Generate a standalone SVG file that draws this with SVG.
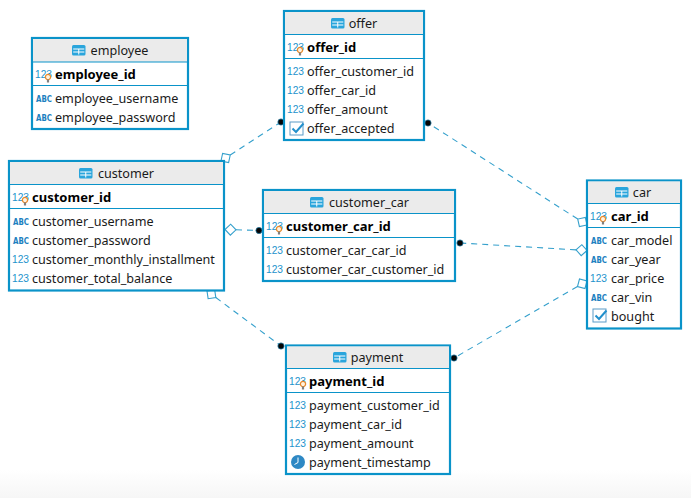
<svg xmlns="http://www.w3.org/2000/svg" width="691" height="498" viewBox="0 0 691 498">
<style>
text{font-family:"Noto Sans","DejaVu Sans",sans-serif;font-size:12.6px;fill:#1a1a1a}
.box{fill:#fff;stroke:#0a93c9;stroke-width:2.2}
.head{fill:#ebebeb}
.sep{stroke:#0a93c9;stroke-width:1.2}
.t{text-anchor:middle}
text.pk{font-weight:bold;font-size:13px;fill:#000}
text.n{font-size:11.5px;fill:#1c93cc;font-family:"Liberation Sans",sans-serif}
text.a{font-size:8.5px;font-weight:bold;fill:#1c7fc0;font-family:"DejaVu Sans",sans-serif}
.rel{fill:none;stroke:#35a0cc;stroke-width:1.1;stroke-dasharray:6 5;marker-start:url(#dia);marker-end:url(#dot)}
</style>
<defs>
<linearGradient id="bg" x1="0" y1="0" x2="0" y2="1"><stop offset="0" stop-color="#fff"/><stop offset="1" stop-color="#f6f6f6"/></linearGradient>
<marker id="dia" markerUnits="userSpaceOnUse" markerWidth="14" markerHeight="14" refX="1" refY="7" orient="auto"><path d="M1 7L6.500 1.500L12 7L6.500 12.500Z" fill="#fff" stroke="#35a0cc" stroke-width="1.100"/></marker>
<marker id="dot" markerUnits="userSpaceOnUse" markerWidth="9" markerHeight="9" refX="4.500" refY="4.500"><circle cx="4.500" cy="4.500" r="3.100" fill="#050505" stroke="#1c6f96" stroke-width=".8"/></marker>
<g id="tbl"><rect x="0" y="0" width="13.500" height="10.500" rx="1.500" fill="#2aa5dc"/><path d="M1.200 4H12.300M1.200 7H12.300M6.750 4V9.500" stroke="#fff" stroke-width="1" fill="none"/></g>
<g id="key"><circle cx="0" cy="0" r="2.600" fill="#fff3e0" stroke="#e8892b" stroke-width="1.300"/><path d="M-1.100 2.500V5.500H1.100V2.500Z" fill="#808080"/></g>
<g id="chk"><rect x="0" y="0" width="13" height="13" fill="#fff" stroke="#5a9bc8" stroke-width="1"/><path d="M2.500 6.500L6 10L13.500 1.500" fill="none" stroke="#2290cc" stroke-width="2"/></g>
</defs>
<rect width="691" height="470" fill="#fff"/>
<rect y="470" width="691" height="28" fill="url(#bg)"/>
<g id="connectors">
<path class="rel" d="M221 161L281 122"/>
<path class="rel" d="M587 225L428 123"/>
<path class="rel" d="M225 229.500L259 230.500"/>
<path class="rel" d="M587 250.500L460 243"/>
<path class="rel" d="M207 291L281 346"/>
<path class="rel" d="M587 281L454 358"/>
</g>
<g id="employee">
<rect class="box" x="32" y="38" width="156" height="91"/><rect class="head" x="33" y="39" width="154" height="23"/>
<path class="sep" d="M33 62H187M33 85.500H187"/>
<use href="#tbl" x="72" y="45"/><text class="t" x="119.500" y="55">employee</text>
<text class="n" x="35" y="78" textLength="17" lengthAdjust="spacingAndGlyphs">123</text><use href="#key" x="48" y="77"/><text class="pk" x="55" y="79">employee_id</text>
<text class="a" x="36" y="102" textLength="16" lengthAdjust="spacingAndGlyphs">ABC</text><text x="55" y="103">employee_username</text>
<text class="a" x="36" y="121" textLength="16" lengthAdjust="spacingAndGlyphs">ABC</text><text x="55" y="122">employee_password</text>
</g>
<g id="offer">
<rect class="box" x="284" y="11" width="140" height="129"/><rect class="head" x="285" y="12" width="138" height="23"/>
<path class="sep" d="M285 34.500H423M285 58.500H423"/>
<use href="#tbl" x="331" y="18"/><text class="t" x="363" y="28">offer</text>
<text class="n" x="287" y="51" textLength="17" lengthAdjust="spacingAndGlyphs">123</text><use href="#key" x="300" y="50"/><text class="pk" x="307" y="52">offer_id</text>
<text class="n" x="287" y="75" textLength="17" lengthAdjust="spacingAndGlyphs">123</text><text x="307" y="76">offer_customer_id</text>
<text class="n" x="287" y="94" textLength="17" lengthAdjust="spacingAndGlyphs">123</text><text x="307" y="95">offer_car_id</text>
<text class="n" x="287" y="113" textLength="17" lengthAdjust="spacingAndGlyphs">123</text><text x="307" y="114">offer_amount</text>
<use href="#chk" x="290" y="122"/><text x="307" y="133">offer_accepted</text>
</g>
<g id="customer">
<rect class="box" x="9" y="161" width="215" height="129.500"/><rect class="head" x="10" y="162" width="213" height="22"/>
<path class="sep" d="M10 184.500H223M10 208.500H223"/>
<use href="#tbl" x="79" y="168"/><text class="t" x="126" y="178">customer</text>
<text class="n" x="12" y="201" textLength="17" lengthAdjust="spacingAndGlyphs">123</text><use href="#key" x="25" y="200"/><text class="pk" x="32" y="202">customer_id</text>
<text class="a" x="13" y="225" textLength="16" lengthAdjust="spacingAndGlyphs">ABC</text><text x="32" y="226">customer_username</text>
<text class="a" x="13" y="244" textLength="16" lengthAdjust="spacingAndGlyphs">ABC</text><text x="32" y="245">customer_password</text>
<text class="n" x="12" y="263" textLength="17" lengthAdjust="spacingAndGlyphs">123</text><text x="32" y="264">customer_monthly_installment</text>
<text class="n" x="12" y="282" textLength="17" lengthAdjust="spacingAndGlyphs">123</text><text x="32" y="283">customer_total_balance</text>
</g>
<g id="customer_car">
<rect class="box" x="263" y="190" width="192" height="91"/><rect class="head" x="264" y="191" width="190" height="22"/>
<path class="sep" d="M264 213.500H454M264 237.500H454"/>
<use href="#tbl" x="310" y="197"/><text class="t" x="369" y="207">customer_car</text>
<text class="n" x="266" y="230" textLength="17" lengthAdjust="spacingAndGlyphs">123</text><use href="#key" x="279" y="229"/><text class="pk" x="286" y="231">customer_car_id</text>
<text class="n" x="266" y="254" textLength="17" lengthAdjust="spacingAndGlyphs">123</text><text x="286" y="255">customer_car_car_id</text>
<text class="n" x="266" y="273" textLength="17" lengthAdjust="spacingAndGlyphs">123</text><text x="286" y="274">customer_car_customer_id</text>
</g>
<g id="car">
<rect class="box" x="587" y="180.500" width="94" height="148"/><rect class="head" x="588" y="181.500" width="92" height="22"/>
<path class="sep" d="M588 203.500H680M588 227.500H680"/>
<use href="#tbl" x="615" y="187"/><text class="t" x="642" y="197">car</text>
<text class="n" x="590" y="220" textLength="17" lengthAdjust="spacingAndGlyphs">123</text><use href="#key" x="603" y="219"/><text class="pk" x="611" y="221">car_id</text>
<text class="a" x="591" y="244" textLength="16" lengthAdjust="spacingAndGlyphs">ABC</text><text x="611" y="245">car_model</text>
<text class="a" x="591" y="263" textLength="16" lengthAdjust="spacingAndGlyphs">ABC</text><text x="611" y="264">car_year</text>
<text class="n" x="590" y="282" textLength="17" lengthAdjust="spacingAndGlyphs">123</text><text x="611" y="283">car_price</text>
<text class="a" x="591" y="301" textLength="16" lengthAdjust="spacingAndGlyphs">ABC</text><text x="611" y="302">car_vin</text>
<use href="#chk" x="593" y="309"/><text x="611" y="321">bought</text>
</g>
<g id="payment">
<rect class="box" x="286" y="345.500" width="164" height="128.500"/><rect class="head" x="287" y="346.500" width="162" height="22"/>
<path class="sep" d="M287 368.500H449M287 392.500H449"/>
<use href="#tbl" x="333" y="352"/><text class="t" x="377" y="362">payment</text>
<text class="n" x="289" y="385" textLength="17" lengthAdjust="spacingAndGlyphs">123</text><use href="#key" x="303" y="384"/><text class="pk" x="309" y="386">payment_id</text>
<text class="n" x="289" y="409" textLength="17" lengthAdjust="spacingAndGlyphs">123</text><text x="309" y="410">payment_customer_id</text>
<text class="n" x="289" y="428" textLength="17" lengthAdjust="spacingAndGlyphs">123</text><text x="309" y="429">payment_car_id</text>
<text class="n" x="289" y="447" textLength="17" lengthAdjust="spacingAndGlyphs">123</text><text x="309" y="448">payment_amount</text>
<circle cx="298" cy="462" r="7" fill="#2e88c4"/><path d="M298 457.500V462.500L294.500 464.500" fill="none" stroke="#fff" stroke-width="1"/><text x="309" y="467">payment_timestamp</text>
</g>
</svg>
